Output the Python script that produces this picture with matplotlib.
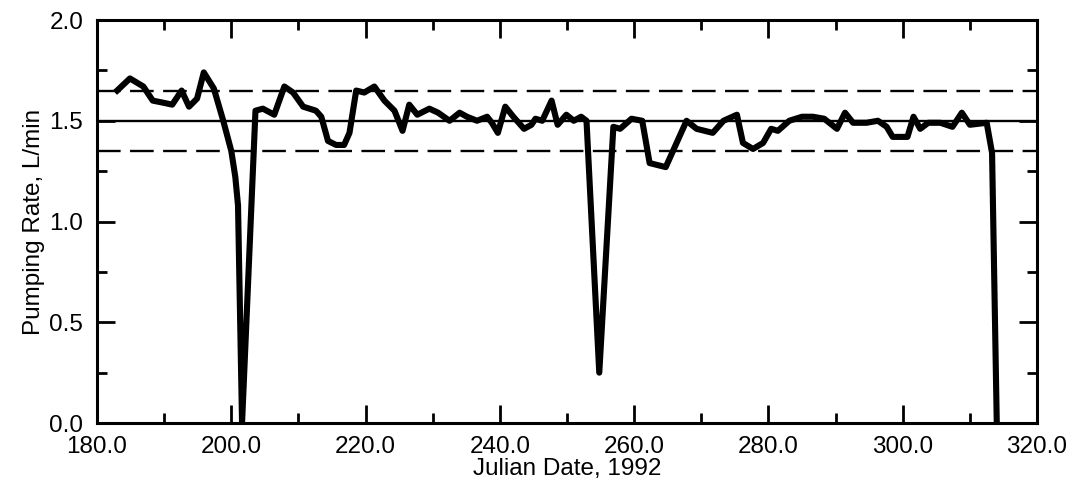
import matplotlib

matplotlib.use("Agg")
import matplotlib.pyplot as plt
from matplotlib.ticker import FormatStrFormatter, MultipleLocator

# pumping rate record
julian_date = [
    183.0, 184.9, 186.9, 188.3, 189.8, 191.2, 192.6, 193.7, 194.9, 195.9,
    197.4, 198.8, 200.0, 200.6, 201.0, 201.6, 203.6, 204.7, 206.4, 207.9,
    209.2, 210.7, 212.6, 213.4, 214.4, 215.6, 216.8, 217.6, 218.6, 219.8,
    221.3, 222.8, 224.3, 225.5, 226.5, 227.7, 229.5, 230.8, 232.5, 234.0,
    235.1, 236.6, 238.1, 238.8, 239.7, 240.8, 242.0, 243.6, 244.7, 245.3,
    246.3, 247.7, 248.6, 249.9, 251.0, 252.1, 252.9, 254.8, 256.9, 257.9,
    259.6, 261.2, 262.3, 264.7, 267.8, 269.3, 271.7, 273.3, 275.3, 276.2,
    277.7, 279.2, 280.4, 281.4, 283.1, 285.0, 286.6, 288.3, 290.2, 291.4,
    292.6, 294.6, 296.3, 297.6, 298.5, 300.7, 301.6, 302.6, 303.8, 305.6,
    307.4, 308.8, 310.0, 312.5, 313.3, 314.0,
]
pumping_rate = [
    1.65, 1.71, 1.67, 1.60, 1.59, 1.58, 1.65, 1.57, 1.61, 1.74,
    1.66, 1.50, 1.35, 1.22, 1.08, 0.00, 1.55, 1.56, 1.53, 1.67,
    1.64, 1.57, 1.55, 1.52, 1.40, 1.38, 1.38, 1.44, 1.65, 1.64,
    1.67, 1.60, 1.55, 1.45, 1.58, 1.53, 1.56, 1.54, 1.50, 1.54,
    1.52, 1.50, 1.52, 1.49, 1.44, 1.57, 1.52, 1.46, 1.48, 1.51,
    1.50, 1.60, 1.48, 1.53, 1.50, 1.52, 1.50, 0.25, 1.47, 1.46,
    1.51, 1.50, 1.29, 1.27, 1.50, 1.46, 1.44, 1.50, 1.53, 1.39,
    1.36, 1.39, 1.46, 1.45, 1.50, 1.52, 1.52, 1.51, 1.46, 1.54,
    1.49, 1.49, 1.50, 1.47, 1.42, 1.42, 1.52, 1.46, 1.49, 1.49,
    1.47, 1.54, 1.48, 1.49, 1.34, 0.00,
]
target_rate = 1.5
limits = [1.35, 1.65]

plt.rcParams["font.family"] = ["Liberation Sans", "DejaVu Sans"]

fig = plt.figure(figsize=(10.72, 4.87), dpi=100)
ax = fig.add_axes([0.0905, 0.1314, 0.8769, 0.8275])

ax.axhline(target_rate, color="black", lw=1.7)
for lim in limits:
    ax.axhline(lim, color="black", lw=1.7, dashes=(10, 4))
ax.plot(julian_date, pumping_rate, color="black", lw=4.4)

ax.set_xlim(180, 320)
ax.set_ylim(0, 2.0)
ax.xaxis.set_major_locator(MultipleLocator(20))
ax.xaxis.set_minor_locator(MultipleLocator(10))
ax.yaxis.set_major_locator(MultipleLocator(0.5))
ax.yaxis.set_minor_locator(MultipleLocator(0.25))
ax.xaxis.set_major_formatter(FormatStrFormatter("%.1f"))
ax.yaxis.set_major_formatter(FormatStrFormatter("%.1f"))

ax.tick_params(which="both", direction="in", top=True, right=True, width=2, labelsize=17.5)
ax.tick_params(which="major", length=13)
ax.tick_params(which="minor", length=7)
ax.tick_params(axis="x", pad=9)
ax.tick_params(axis="y", pad=10)
for spine in ax.spines.values():
    spine.set_linewidth(2.2)

ax.set_xlabel("Julian Date, 1992", fontsize=17.5, labelpad=0)
ax.set_ylabel("Pumping Rate, L/min", fontsize=17.5, labelpad=3)

fig.savefig("out.png", dpi=100)
